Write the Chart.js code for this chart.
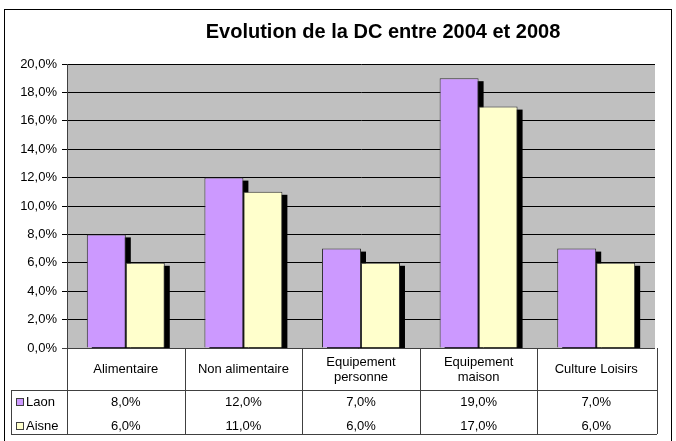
<!DOCTYPE html>
<html>
<head>
<meta charset="utf-8">
<script src="https://cdn.jsdelivr.net/npm/chart.js@4"></script>
<style>
html,body{margin:0;padding:0;background:#fff;}
#wrap{position:relative;width:676px;height:441px;}
</style>
</head>
<body>
<div id="wrap"><canvas id="c" width="676" height="441"></canvas></div>
<script>
const title = 'Evolution de la DC entre 2004 et 2008';
const categories = [['Alimentaire'], ['Non alimentaire'], ['Equipement', 'personne'], ['Equipement', 'maison'], ['Culture Loisirs']];
const seriesNames = ['Laon', 'Aisne'];
const laon = [8, 12, 7, 19, 7];
const aisne = [6, 11, 6, 17, 6];
const seriesColors = ['#CC99FF', '#FFFFCC'];
const yMin = 0, yMax = 20, yStep = 2;

const FONT = '"Liberation Sans", Arial, sans-serif';
const fmt = v => v.toFixed(1).replace('.', ',') + '%';

const framePlugin = {
  id: 'frame',
  beforeDraw(chart) {
    const ctx = chart.ctx, a = chart.chartArea;
    ctx.save();
    ctx.fillStyle = '#fff';
    ctx.fillRect(0, 0, chart.width, chart.height);
    ctx.fillStyle = '#C0C0C0';
    ctx.fillRect(a.left, a.top, a.right - a.left, a.bottom - a.top);
    ctx.restore();
  },
  beforeDatasetsDraw(chart) {
    const ctx = chart.ctx, a = chart.chartArea;
    ctx.save();
    ctx.beginPath();
    ctx.rect(a.left, a.top, a.right - a.left, a.bottom - a.top);
    ctx.clip();
    ctx.fillStyle = '#000';
    chart.data.datasets.forEach((ds, di) => {
      const meta = chart.getDatasetMeta(di);
      meta.data.forEach(el => {
        const p = el.getProps(['x', 'y', 'base', 'width'], true);
        ctx.fillRect(p.x - p.width / 2 + 5, p.y + 3, p.width, p.base - p.y);
      });
    });
    ctx.restore();
  },
  afterDraw(chart) {
    const ctx = chart.ctx, a = chart.chartArea;
    ctx.save();
    // outer frame
    ctx.strokeStyle = '#000';
    ctx.lineWidth = 1;
    ctx.strokeRect(4.5, 9.5, 667, 440);
    // title
    ctx.fillStyle = '#000';
    ctx.font = 'bold 20px ' + FONT;
    ctx.textAlign = 'center';
    ctx.textBaseline = 'middle';
    ctx.fillText(title, 383, 32);

    // data table
    const n = categories.length;
    const cw = (a.right - a.left) / n;
    const rowTop = 390, rowBottom = 434, tableLeft = 11;
    ctx.strokeStyle = '#404040';
    ctx.beginPath();
    // x axis line
    ctx.moveTo(a.left - 5, a.bottom + 0.5); ctx.lineTo(a.right, a.bottom + 0.5);
    ctx.moveTo(tableLeft, rowTop + 0.5); ctx.lineTo(a.right + 2, rowTop + 0.5);
    ctx.moveTo(tableLeft, rowBottom + 0.5); ctx.lineTo(a.right + 2, rowBottom + 0.5);
    ctx.moveTo(tableLeft + 0.5, rowTop); ctx.lineTo(tableLeft + 0.5, rowBottom);
    for (let i = 0; i <= n; i++) {
      const x = Math.round(a.left + i * cw) + (i === n ? 2 : 0) + 0.5;
      ctx.moveTo(x, a.bottom); ctx.lineTo(x, rowBottom);
    }
    ctx.stroke();

    ctx.fillStyle = '#000';
    ctx.font = '13px ' + FONT;
    ctx.textAlign = 'center';
    const xs = chart.scales.x;
    categories.forEach((lines, i) => {
      const cx = xs.getPixelForValue(i);
      if (lines.length === 1) {
        ctx.fillText(lines[0], cx, 369);
      } else {
        ctx.fillText(lines[0], cx, 362);
        ctx.fillText(lines[1], cx, 377);
      }
    });
    const rowsY = [402, 426];
    [laon, aisne].forEach((vals, r) => {
      vals.forEach((v, i) => {
        ctx.fillText(fmt(v), xs.getPixelForValue(i), rowsY[r]);
      });
      // legend key
      ctx.fillStyle = seriesColors[r];
      ctx.fillRect(16, rowsY[r] - 4, 8, 8);
      ctx.strokeStyle = '#404040';
      ctx.strokeRect(16.5, rowsY[r] - 3.5, 7, 7);
      ctx.fillStyle = '#000';
      ctx.textAlign = 'left';
      ctx.fillText(seriesNames[r], 26, rowsY[r]);
      ctx.textAlign = 'center';
    });
    ctx.restore();
  }
};

new Chart(document.getElementById('c'), {
  type: 'bar',
  data: {
    labels: categories.map(l => l.join(' ')),
    datasets: [
      { label: seriesNames[0], data: laon, backgroundColor: seriesColors[0], borderColor: '#333', borderWidth: 1, borderSkipped: 'bottom' },
      { label: seriesNames[1], data: aisne, backgroundColor: seriesColors[1], borderColor: '#333', borderWidth: 1, borderSkipped: 'bottom' }
    ]
  },
  options: {
    responsive: false,
    animation: false,
    devicePixelRatio: 1,
    layout: { padding: { left: 0, right: 21, top: 64, bottom: 93 } },
    datasets: { bar: { categoryPercentage: 0.663, barPercentage: 1.0 } },
    plugins: { legend: { display: false }, title: { display: false }, tooltip: { enabled: false } },
    scales: {
      x: { display: false },
      y: {
        min: yMin, max: yMax,
        afterFit(scale) { scale.width = 67; },
        ticks: { stepSize: yStep, callback: v => fmt(v), color: '#000', font: { family: FONT, size: 13 }, padding: 5 },
        grid: { color: '#000', lineWidth: 1, tickLength: 5, tickColor: '#000' },
        border: { display: true, color: '#404040', width: 1 }
      }
    }
  },
  plugins: [framePlugin]
});
</script>
</body>
</html>
